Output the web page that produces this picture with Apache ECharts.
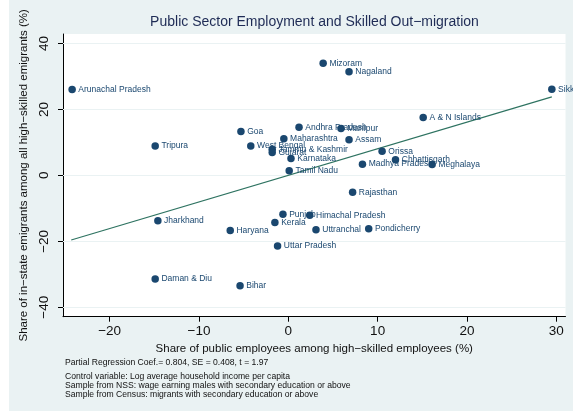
<!DOCTYPE html>
<html><head><meta charset="utf-8">
<script src="https://cdn.jsdelivr.net/npm/echarts@6/dist/echarts.min.js"></script>
<style>html,body{margin:0;padding:0;background:#fff}#c{width:573px;height:414px}</style>
</head><body><div id="c"></div><script>
const states = ["Arunachal Pradesh","Mizoram","Nagaland","Sikkim","A & N Islands","Andhra Pradesh","Manipur","Goa","Maharashtra","Assam","Tripura","West Bengal","Jammu & Kashmir","Gujarat","Orissa","Karnataka","Chhattisgarh","Madhya Pradesh","Meghalaya","Tamil Nadu","Rajasthan","Punjab","Himachal Pradesh","Jharkhand","Kerala","Pondicherry","Uttranchal","Haryana","Uttar Pradesh","Daman & Diu","Bihar"];
const xVals = [-24.2,3.9,6.8,29.5,15.1,1.2,5.9,-5.3,-0.5,6.8,-14.9,-4.2,-1.8,-1.8,10.5,0.3,12.0,8.3,16.1,0.1,7.2,-0.6,2.4,-14.6,-1.5,9.0,3.1,-6.5,-1.2,-14.9,-5.4];
const yVals = [26.0,34.0,31.4,26.1,17.5,14.6,14.2,13.3,11.1,10.8,8.9,8.9,7.9,6.9,7.3,5.1,4.7,3.4,3.3,1.4,-5.1,-11.8,-12.1,-13.8,-14.3,-16.2,-16.5,-16.7,-21.4,-31.4,-33.5];
const fitX = [-24.3, 29.5];
const fitY = [-19.6, 23.8];
const xTicks = [-20,-10,0,10,20,30];
const yTicks = [-40,-20,0,20,40];
const titleText = "Public Sector Employment and Skilled Out\u2212migration";
const xName = "Share of public employees among high\u2212skilled employees (%)";
const yName = "Share of in\u2212state emigrants among all high\u2212skilled emigrants (%)";
const notes = ["Partial Regression Coef.= 0.804, SE = 0.408, t = 1.97","Control variable: Log average household income per capita","Sample from NSS: wage earning males with secondary education or above","Sample from Census: migrants with secondary education or above"];

const FONT = "Liberation Sans, Arial, Helvetica, sans-serif";
const navy = "#1a476f";
const minus = v => String(v).replace('-', '\u2212');
const chart = echarts.init(document.getElementById('c'));
const noteY = [358, 372, 381, 390];
chart.setOption({
  animation: false,
  backgroundColor: '#ffffff',
  graphic: [
    {type:'rect', z:-10, silent:true, shape:{x:9,y:0,width:564,height:411}, style:{fill:'#eaf2f3'}}
  ].concat(notes.map((t,i)=>({type:'text', left:65, top:noteY[i], z:10, style:{text:t, fontSize:8.6, fontFamily:FONT, fill:'#111'}}))),
  title: {text:titleText, left:314.5, textAlign:'center', top:15, padding:0,
    textStyle:{fontSize:14, fontWeight:'normal', fontFamily:FONT, color:'#1e2b55'}},
  grid: {left:63, right:7.5, top:34, bottom:97.3, show:true, backgroundColor:'#ffffff', borderWidth:0},
  xAxis: {type:'value', min:-25.22, max:31.03,
    name:xName, nameLocation:'middle', nameGap:24.5,
    nameTextStyle:{fontSize:11.5, fontFamily:FONT, color:'#111'},
    axisLine:{show:true, onZero:false, lineStyle:{color:'#000', width:1}},
    axisTick:{show:true, length:5, customValues:xTicks, lineStyle:{color:'#000'}},
    axisLabel:{customValues:xTicks, formatter:minus, fontSize:13.5, fontFamily:FONT, color:'#111', margin:7.5},
    splitLine:{show:false}},
  yAxis: {type:'value', min:-42.85, max:42.85,
    name:yName, nameLocation:'middle', nameGap:19,
    nameTextStyle:{fontSize:11.5, fontFamily:FONT, color:'#111'},
    axisLine:{show:true, onZero:false, lineStyle:{color:'#000', width:1}},
    axisTick:{show:true, length:5, customValues:yTicks, lineStyle:{color:'#000'}},
    axisLabel:{customValues:yTicks, formatter:minus, rotate:90, fontSize:13.5, fontFamily:FONT, color:'#111', margin:11.5},
    splitLine:{show:false}},
  series: [
    {type:'line', data:[], z:1, silent:true,
      markLine:{silent:true, z:1, symbol:'none', label:{show:false},
        lineStyle:{color:'#eaf2f3', width:1.2, type:'solid'},
        data: yTicks.map(v=>({yAxis:v}))}},
    {type:'line', z:6, silent:true, symbol:'none', data: fitX.map((x,i)=>[x, fitY[i]]),
      lineStyle:{color:'#2e7361', width:1.2}},
    {type:'scatter', z:7, symbolSize:7.5, itemStyle:{color:navy, opacity:1},
      data: states.map((s,i)=>({name:s, value:[xVals[i], yVals[i]]})),
      label:{show:true, position:'right', distance:2.5, formatter:p=>p.name,
        fontSize:8.5, fontFamily:FONT, color:navy}}
  ]
});
</script></body></html>
